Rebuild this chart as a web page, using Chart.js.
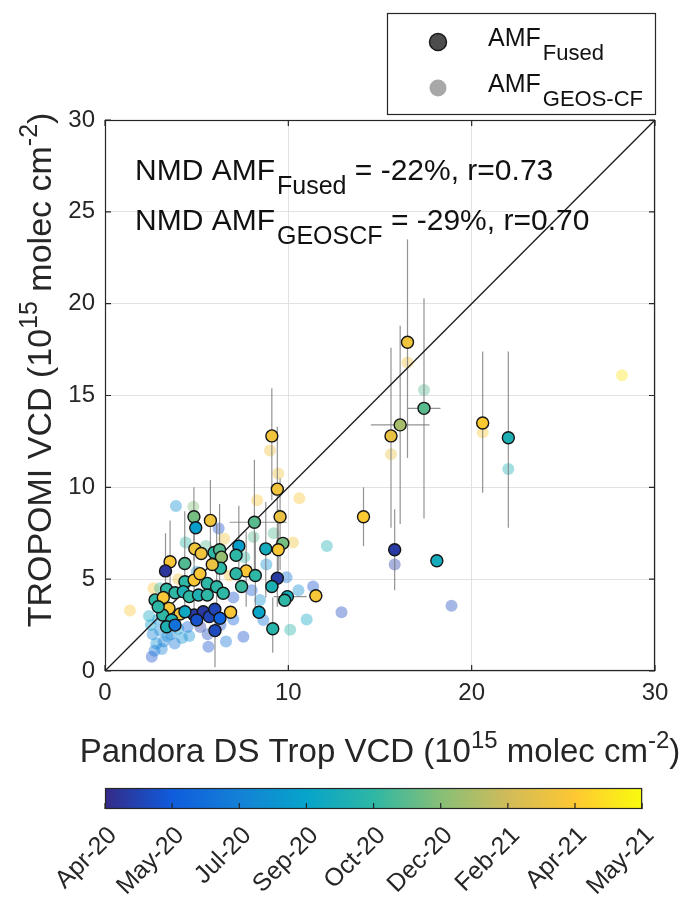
<!DOCTYPE html>
<html><head><meta charset="utf-8">
<script src="https://cdn.jsdelivr.net/npm/chart.js@4.4.1/dist/chart.umd.min.js"></script>
<style>
html,body{margin:0;padding:0;background:#fff;}
#wrap{position:relative;width:683px;height:903px;overflow:hidden;background:#fff;}
#main{position:absolute;left:0;top:0;}
#cb{position:absolute;left:0;top:760px;}
</style></head><body>
<div id="wrap"><canvas id="main" width="683" height="903"></canvas><canvas id="cb" width="683" height="143"></canvas></div>
<script>
// ---------------- DATA ----------------
// AMF Fused (outlined markers); date = fraction of colorbar range (Apr-20 .. May-21)
const fusedX = [16.5,16.1,15.6,17.4,20.6,22.0,14.1,15.8,18.1,9.1,
  9.4,9.55,8.15,9.7,9.45,8.77,7.3,7.15,7.7,7.15,
  8.2,7.45,9.4,9.1,9.95,9.8,11.5,8.4,9.15,6.85,
  4.85,4.95,5.75,4.9,5.25,4.35,5.95,6.25,6.35,6.3,
  5.85,3.55,3.3,4.36,4.86,5.18,5.58,3.36,2.73,3.18,
  3.82,4.27,4.6,5.1,5.58,6.09,6.45,3.49,4.09,3.15,
  3.64,3.36,4.86,4.36,5.36,5.69,5.99,6.27,6.0,5.0,
  3.82,2.9];
const fusedY = [17.9,13.4,12.8,14.3,13.5,12.7,8.4,6.6,6.0,12.8,
  9.9,8.4,8.1,6.95,6.6,6.65,6.8,6.3,5.45,5.3,
  5.2,4.6,5.05,4.6,4.05,3.85,4.1,3.2,2.3,3.2,
  8.4,7.8,8.2,6.65,6.4,5.85,6.45,6.6,6.2,5.6,
  5.8,5.95,5.45,4.86,4.95,5.3,4.77,4.45,3.87,4.0,
  4.26,4.32,4.05,4.14,4.14,4.59,4.23,3.41,3.1,3.05,
  2.78,2.41,3.05,3.23,3.23,2.96,3.36,2.87,2.2,2.78,
  2.5,3.5];
const fusedDate = [0.84,0.68,0.82,0.56,0.88,0.45,0.88,0.04,0.42,0.84,
  0.84,0.82,0.56,0.6,0.86,0.42,0.35,0.5,0.86,0.5,
  0.5,0.52,0.04,0.45,0.42,0.5,0.86,0.38,0.48,0.86,
  0.6,0.35,0.84,0.84,0.84,0.55,0.5,0.55,0.65,0.5,
  0.82,0.86,0.03,0.5,0.86,0.86,0.5,0.5,0.5,0.86,
  0.5,0.45,0.5,0.45,0.5,0.5,0.5,0.86,0.84,0.5,
  0.45,0.45,0.04,0.4,0.04,0.07,0.07,0.15,0.08,0.1,
  0.2,0.5];
const fusedYLo = [11.6,8.0,7.8,8.3,9.7,7.8,6.8,4.4,null,9.3,
  6.5,5.5,5.0,null,4.5,4.0,5.0,null,3.5,null,
  3.0,null,3.5,null,null,null,null,null,1.0,null,
  6.0,null,5.5,null,null,3.5,null,4.5,null,null,
  null,4.3,3.5,null,3.0,null,null,null,null,null,
  null,null,null,null,null,2.5,null,null,null,null,
  null,null,null,null,null,null,null,null,0.2,null,
  null,null];
const fusedYHi = [23.5,18.8,17.6,20.3,17.4,17.4,10.0,8.8,null,15.4,
  13.3,10.5,11.5,null,8.8,9.2,9.0,null,7.6,null,
  7.5,null,7.0,null,null,null,null,null,4.0,null,
  10.0,null,10.4,null,null,8.7,null,9.1,null,null,
  null,8.2,7.5,null,7.5,null,null,null,null,null,
  null,null,null,null,null,8.0,null,null,null,null,
  null,null,null,null,null,null,null,null,3.0,null,
  null,null];
const fusedXLo = [null,14.5,null,16.5,null,null,null,null,null,null,
  null,null,6.8,null,null,null,null,null,null,null,
  null,null,null,null,9.2,null,null,null,null,null];
const fusedXHi = [null,17.7,null,18.3,null,null,null,null,null,null,
  null,null,9.9,null,null,null,null,null,null,null,
  null,null,null,null,11.0,null,null,null,null,null];

// AMF GEOS-CF (faint markers)
const geosX = [28.2,17.4,16.5,15.6,20.6,22.0,15.8,18.9,12.9,12.1,
  10.6,10.25,9.0,9.45,11.0,10.1,10.55,11.35,8.45,8.64,
  7.55,8.1,3.87,4.82,6.2,1.36,2.64,2.55,5.64,2.6,
  2.8,3.0,3.2,3.4,2.5,2.9,3.6,3.8,4.0,4.2,
  2.7,3.1,4.5,4.6,5.2,5.6,6.3,6.6,7.0,2.4,
  3.3,5.0,5.5,4.4,6.5,7.6,8.8,9.9,7.0,8.0,
  6.8,4.0,3.0,9.2,8.3];
const geosY = [16.1,15.3,16.8,11.8,13.0,11.0,5.8,3.55,3.2,6.8,
  9.4,7.0,12.0,10.75,2.8,2.25,4.4,4.6,3.87,2.78,
  1.87,7.3,8.98,8.94,7.76,3.3,4.5,0.78,1.32,2.0,
  1.5,2.2,1.6,1.9,2.5,2.8,2.0,1.5,2.3,1.8,
  1.1,1.2,2.4,1.9,2.4,2.0,2.5,1.6,2.8,3.0,
  3.6,5.4,6.8,7.0,7.2,6.2,5.8,5.1,4.0,4.4,
  5.2,5.0,4.5,7.5,9.3];
const geosDate = [0.95,0.56,0.84,0.82,0.88,0.45,0.05,0.08,0.08,0.45,
  0.86,0.84,0.84,0.84,0.4,0.48,0.3,0.1,0.3,0.2,
  0.1,0.56,0.3,0.62,0.1,0.86,0.86,0.1,0.1,0.25,
  0.3,0.28,0.22,0.3,0.35,0.3,0.25,0.2,0.35,0.3,
  0.2,0.25,0.15,0.3,0.05,0.08,0.1,0.2,0.15,0.4,
  0.5,0.3,0.55,0.5,0.84,0.5,0.3,0.2,0.1,0.12,
  0.84,0.84,0.5,0.55,0.86];

const oneToOneX = [0, 30];
const oneToOneY = [0, 30];

const xTicks = [0, 10, 20, 30];
const yTicks = [0, 5, 10, 15, 20, 25, 30];
const colorbarLabels = ['Apr-20','May-20','Jul-20','Sep-20','Oct-20','Dec-20','Feb-21','Apr-21','May-21'];
const parulaStops = ['#352a87','#0f5cdd','#1481d6','#06a4ca','#2eb7a4','#87bf77','#d1bb59','#fec832','#f9fb0e'];

const legendNames = [['AMF','Fused'],['AMF','GEOS-CF']];
const statLines = [['NMD AMF','Fused',' = -22%, r=0.73'],['NMD AMF','GEOSCF',' = -29%, r=0.70']];
const xTitle = [['Pandora DS Trop VCD (10',0],['15',1],[' molec cm',0],['-2',1],[')',0]];
const yTitle = [['TROPOMI VCD (10',0],['15',1],[' molec cm',0],['-2',1],[')',0]];

// ---------------- HELPERS ----------------
const FAM = "'Liberation Sans', Arial, Helvetica, sans-serif";
const TXT = '#262626';
function hexToRgb(h){return [parseInt(h.slice(1,3),16),parseInt(h.slice(3,5),16),parseInt(h.slice(5,7),16)];}
function parula(t,a){
  t=Math.max(0,Math.min(1,t));
  const n=parulaStops.length-1, f=t*n, i=Math.min(n-1,Math.floor(f)), u=f-i;
  const c0=hexToRgb(parulaStops[i]), c1=hexToRgb(parulaStops[i+1]);
  const c=c0.map((v,k)=>Math.round(v+(c1[k]-v)*u));
  return 'rgba('+c[0]+','+c[1]+','+c[2]+','+a+')';
}
// parts: [text, mode] mode 0 normal, 1 superscript, -1 subscript
function drawRich(ctx, parts, x, y, base, small, rise, align, gap){
  gap = gap||0;
  let total=0;
  const ws=parts.map(p=>{ctx.font=(p[1]===0?base:small)+'px '+FAM; const w=ctx.measureText(p[0]).width + (p[1]===-1?gap:0); total+=w; return w;});
  let cx = align==='center' ? x-total/2 : x;
  parts.forEach((p,i)=>{
    ctx.font=(p[1]===0?base:small)+'px '+FAM;
    const dy = p[1]===1 ? -rise : (p[1]===-1 ? rise : 0);
    ctx.fillText(p[0], cx + (p[1]===-1?gap:0), y+dy);
    cx+=ws[i];
  });
}

// ---------------- MAIN CHART ----------------
const decor = {
  id:'decor',
  afterDatasetDraw(chart, args){
    if(args.index!==2) return;
    const ctx=chart.ctx, xs=chart.scales.x, ys=chart.scales.y, ca=chart.chartArea;
    ctx.save();
    ctx.beginPath(); ctx.rect(ca.left,ca.top,ca.right-ca.left,ca.bottom-ca.top); ctx.clip();
    ctx.strokeStyle='rgba(120,120,120,0.8)'; ctx.lineWidth=1.2;
    fusedX.forEach((x,i)=>{
      if(fusedYLo[i]!=null){
        const px=xs.getPixelForValue(x);
        ctx.beginPath(); ctx.moveTo(px, ys.getPixelForValue(fusedYLo[i])); ctx.lineTo(px, ys.getPixelForValue(fusedYHi[i])); ctx.stroke();
      }
      if(fusedXLo[i]!=null){
        const py=ys.getPixelForValue(fusedY[i]);
        ctx.beginPath(); ctx.moveTo(xs.getPixelForValue(fusedXLo[i]), py); ctx.lineTo(xs.getPixelForValue(fusedXHi[i]), py); ctx.stroke();
      }
    });
    ctx.restore();
  },
  afterDatasetsDraw(chart){
    const ctx=chart.ctx, xs=chart.scales.x, ys=chart.scales.y, ca=chart.chartArea;
    ctx.save();
    ctx.strokeStyle='#262626'; ctx.lineWidth=1.2;
    ctx.strokeRect(ca.left+0.5, ca.top+0.5, ca.right-ca.left-1, ca.bottom-ca.top-1);
    const tl=6;
    ctx.beginPath();
    xTicks.forEach(v=>{const p=xs.getPixelForValue(v); ctx.moveTo(p,ca.bottom); ctx.lineTo(p,ca.bottom-tl); ctx.moveTo(p,ca.top); ctx.lineTo(p,ca.top+tl);});
    yTicks.forEach(v=>{const p=ys.getPixelForValue(v); ctx.moveTo(ca.left,p); ctx.lineTo(ca.left+tl,p); ctx.moveTo(ca.right,p); ctx.lineTo(ca.right-tl,p);});
    ctx.stroke();
    ctx.restore();
  },
  afterDraw(chart){
    const ctx=chart.ctx, ca=chart.chartArea;
    ctx.save();
    ctx.fillStyle='#111'; ctx.textBaseline='alphabetic';
    // statistics text
    statLines.forEach((s,i)=>{
      const y = 180 + i*50;
      drawRich(ctx, [[s[0],0],[s[1],-1],[s[2],0]], 135, y, 30, 25, 14, 'left', 2);
    });
    // axis titles
    ctx.fillStyle=TXT;
    drawRich(ctx, xTitle, (ca.left+ca.right)/2, 762, 33, 24, 14, 'center');
    ctx.save();
    ctx.translate(51, 370); ctx.rotate(-Math.PI/2);
    drawRich(ctx, yTitle, 0, 0, 34, 25, 14, 'center');
    ctx.restore();
    // legend
    const lx=387, ly=13, lw=268, lh=101;
    ctx.fillStyle='#fff'; ctx.fillRect(lx,ly,lw,lh);
    ctx.strokeStyle='#262626'; ctx.lineWidth=1.2; ctx.strokeRect(lx+0.5,ly+0.5,lw,lh);
    const mk=[{y:42,fill:'#4d4d4d',stroke:'#1a1a1a'},{y:88,fill:'#a8a8a8',stroke:null}];
    mk.forEach((m,i)=>{
      ctx.beginPath(); ctx.arc(438,m.y,8.5,0,Math.PI*2); ctx.fillStyle=m.fill; ctx.fill();
      if(m.stroke){ctx.strokeStyle=m.stroke; ctx.lineWidth=1.5; ctx.stroke();}
      ctx.fillStyle='#111';
      drawRich(ctx, [[legendNames[i][0],0],[legendNames[i][1],-1]], 488, m.y+4, 25, 22, 14, 'left', 2);
    });
    ctx.restore();
  }
};

new Chart(document.getElementById('main'), {
  type:'scatter',
  data:{datasets:[
    {label:'AMF Fused', data: fusedX.map((x,i)=>({x:x,y:fusedY[i]})),
     pointRadius:6, pointHoverRadius:6, pointBackgroundColor: fusedDate.map(t=>parula(t,1)),
     pointBorderColor:'#151515', pointBorderWidth:1.4},
    {label:'1:1', data: oneToOneX.map((x,i)=>({x:x,y:oneToOneY[i]})), showLine:true, fill:false,
     borderColor:'#1a1a1a', borderWidth:1.3, pointRadius:0},
    {label:'AMF GEOS-CF', data: geosX.map((x,i)=>({x:x,y:geosY[i]})),
     pointRadius:6, pointHoverRadius:6, pointBackgroundColor: geosDate.map(t=>parula(t,0.4)),
     pointBorderWidth:0}
  ]},
  options:{
    responsive:false, animation:false, devicePixelRatio:1,
    layout:{padding:{left:45, right:28, top:120, bottom:172}},
    plugins:{legend:{display:false}, tooltip:{enabled:false}},
    scales:{
      x:{type:'linear', min:0, max:30,
        afterBuildTicks:(s)=>{s.ticks=xTicks.map(v=>({value:v}));},
        ticks:{font:{size:24,family:FAM}, color:TXT, padding:8},
        grid:{color:'#e2e2e2', lineWidth:1, drawTicks:false},
        border:{display:false},
        afterFit:(s)=>{s.height=60;}},
      y:{type:'linear', min:0, max:30,
        afterBuildTicks:(s)=>{s.ticks=yTicks.map(v=>({value:v}));},
        ticks:{font:{size:24,family:FAM}, color:TXT, padding:10},
        grid:{color:'#e2e2e2', lineWidth:1, drawTicks:false},
        border:{display:false},
        afterFit:(s)=>{s.width=60;}}
    }
  },
  plugins:[decor]
});

// ---------------- COLORBAR ----------------
const labelShift = 0.12;
const cbDecor = {
  id:'cbDecor',
  beforeDatasetsDraw(chart){
    const ctx=chart.ctx, ca=chart.chartArea, xs=chart.scales.x;
    const x0=xs.getPixelForValue(0), x1=xs.getPixelForValue(colorbarLabels.length-1);
    ctx.save();
    const g=ctx.createLinearGradient(x0,0,x1,0);
    parulaStops.forEach((c,i)=>g.addColorStop(i/(parulaStops.length-1), c));
    ctx.fillStyle=g; ctx.fillRect(x0,ca.top,x1-x0,ca.bottom-ca.top);
    ctx.strokeStyle='#262626'; ctx.lineWidth=1.2;
    ctx.strokeRect(x0+0.5,ca.top+0.5,x1-x0-1,ca.bottom-ca.top-1);
    ctx.beginPath();
    colorbarLabels.forEach((l,i)=>{const p=xs.getPixelForValue(i); ctx.moveTo(p,ca.bottom); ctx.lineTo(p,ca.bottom-6);});
    ctx.stroke();
    ctx.restore();
  }
};
new Chart(document.getElementById('cb'), {
  type:'scatter',
  data:{datasets:[{data:[]}]},
  options:{
    responsive:false, animation:false, devicePixelRatio:1,
    layout:{padding:{left:105, right:28, top:28, bottom:0}},
    plugins:{legend:{display:false}, tooltip:{enabled:false}},
    scales:{
      x:{type:'linear', min:0, max:colorbarLabels.length-1,
        afterBuildTicks:(s)=>{s.ticks=colorbarLabels.map((l,i)=>({value:i+labelShift}));},
        ticks:{autoSkip:false, minRotation:45, maxRotation:45, padding:12,
          font:{size:25,family:FAM}, color:TXT,
          callback:(v)=>colorbarLabels[Math.round(v-labelShift)]},
        grid:{display:false, drawTicks:false}, border:{display:false},
        afterFit:(s)=>{s.height=94;}},
      y:{display:false, min:0, max:1}
    }
  },
  plugins:[cbDecor]
});
</script>
</body></html>
